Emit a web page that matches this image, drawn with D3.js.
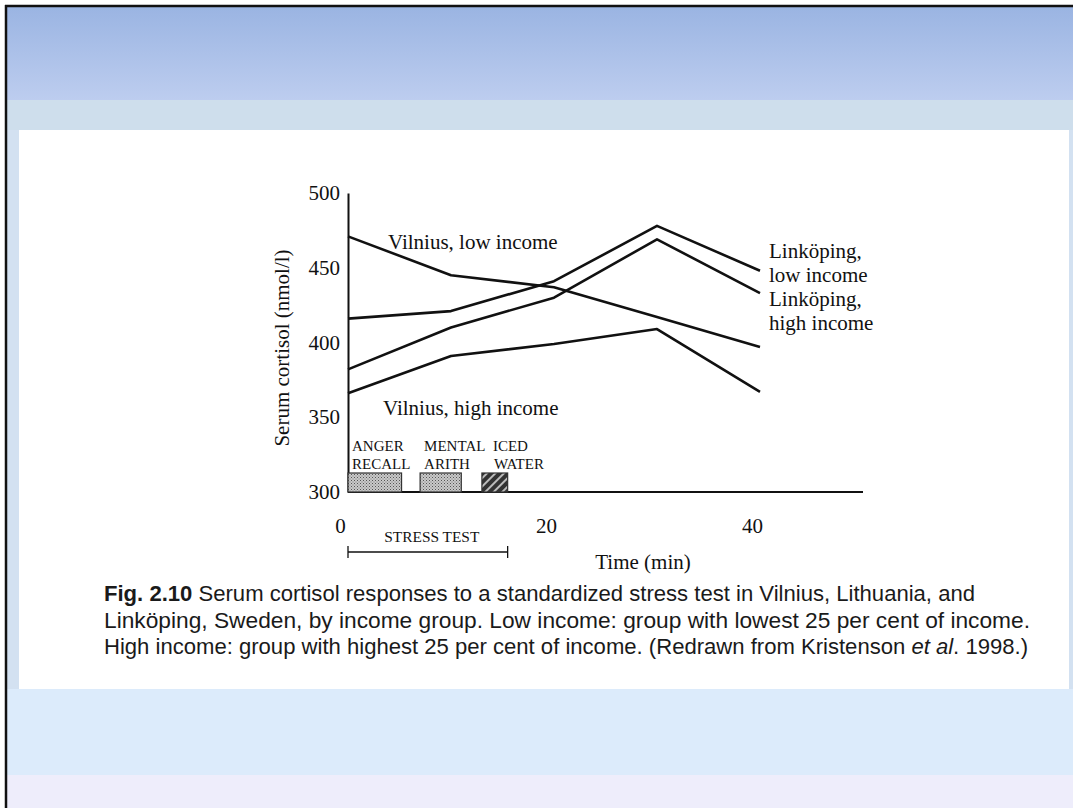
<!DOCTYPE html>
<html>
<head>
<meta charset="utf-8">
<script src="https://cdn.jsdelivr.net/npm/d3@7/dist/d3.min.js"></script>
<style>
  html, body { margin: 0; padding: 0; background: #fff; }
  svg { display: block; }
</style>
</head>
<body>
<svg id="chart" width="1073" height="808"></svg>
<script>
// ---- data ----
const times = [0, 10, 20, 30, 40];
const vilniusLow = [471, 445, 437, 417, 397];
const vilniusHigh = [366, 391, 399, 409, 367];
const linkopingLow = [416, 421, 441, 478, 448];
const linkopingHigh = [382, 410, 430, 469, 433];
const baselineTimes = [0, 50];
const baselineValues = [300, 300];
const yTicks = [300, 350, 400, 450, 500];
const xTicks = [0, 20, 40];
const phaseNames = [["ANGER", "RECALL"], ["MENTAL", "ARITH"], ["ICED", "WATER"]];
const phaseStart = [0, 7, 13];
const phaseEnd = [5.2, 11, 15.5];
const stressTestRange = [0, 15.5];
const seriesLabels = {
  vLow: ["Vilnius, low income"],
  vHigh: ["Vilnius, high income"],
  lLow: ["Linköping,", "low income"],
  lHigh: ["Linköping,", "high income"]
};
const captionLines = [
  [{t: "Fig. 2.10", w: "bold"}, {t: " Serum cortisol responses to a standardized stress test in Vilnius, Lithuania, and"}],
  [{t: "Linköping, Sweden, by income group. Low income: group with lowest 25 per cent of income."}],
  [{t: "High income: group with highest 25 per cent of income. (Redrawn from Kristenson "}, {t: "et al", s: "italic"}, {t: ". 1998.)"}]
];

const svg = d3.select("#chart");
const W = 1073, H = 808;

// ---- slide background ----
const defs = svg.append("defs");
const grad = defs.append("linearGradient").attr("id", "topGrad").attr("x1", 0).attr("y1", 0).attr("x2", 0).attr("y2", 1);
grad.append("stop").attr("offset", "0%").attr("stop-color", "#9AB4E2");
grad.append("stop").attr("offset", "100%").attr("stop-color", "#BDCDEF");

svg.append("rect").attr("x", 0).attr("y", 0).attr("width", W).attr("height", H).attr("fill", "#ffffff");
svg.append("rect").attr("x", 6).attr("y", 6).attr("width", W - 6).attr("height", H - 6).attr("fill", "#D3E1F1");
svg.append("rect").attr("x", 6).attr("y", 6).attr("width", W - 6).attr("height", 94).attr("fill", "url(#topGrad)");
svg.append("rect").attr("x", 6).attr("y", 100).attr("width", W - 6).attr("height", 30).attr("fill", "#CEDEEC");
svg.append("rect").attr("x", 6).attr("y", 689).attr("width", W - 6).attr("height", 86).attr("fill", "#DCEBFB");
svg.append("rect").attr("x", 6).attr("y", 775).attr("width", W - 6).attr("height", 33).attr("fill", "#EEEDFB");
svg.append("rect").attr("x", 19).attr("y", 130).attr("width", 1050).attr("height", 559).attr("fill", "#ffffff");
// frame edges
svg.append("line").attr("x1", 5).attr("x2", W).attr("y1", 6).attr("y2", 6).attr("stroke", "#111").attr("stroke-width", 2.5);
svg.append("line").attr("x1", 6).attr("x2", 6).attr("y1", 5).attr("y2", H).attr("stroke", "#111").attr("stroke-width", 2.5);

// ---- patterns ----
const stip = defs.append("pattern").attr("id", "stipple").attr("patternUnits", "userSpaceOnUse").attr("width", 3).attr("height", 3);
stip.append("rect").attr("width", 3).attr("height", 3).attr("fill", "#c9c9c9");
stip.append("rect").attr("x", 0).attr("y", 0).attr("width", 1).attr("height", 1).attr("fill", "#555");
stip.append("rect").attr("x", 1.5).attr("y", 1.5).attr("width", 1).attr("height", 1).attr("fill", "#777");
const hatch = defs.append("pattern").attr("id", "hatch").attr("patternUnits", "userSpaceOnUse").attr("width", 6).attr("height", 6)
  .attr("patternTransform", "rotate(45)");
hatch.append("rect").attr("width", 6).attr("height", 6).attr("fill", "#333");
hatch.append("rect").attr("x", 0).attr("y", 0).attr("width", 2).attr("height", 6).attr("fill", "#bbb");

// ---- scales ----
const x = d3.scaleLinear().domain([0, 50]).range([348, 863]);
const y = d3.scaleLinear().domain([300, 500]).range([492, 193]);

const serif = "'Liberation Serif', 'DejaVu Serif', serif";
const g = svg.append("g");

// y axis
const yAxis = g.append("g").attr("transform", `translate(${x(0)},0)`)
  .call(d3.axisLeft(y).tickValues(yTicks).tickSize(0).tickSizeOuter(0).tickPadding(8));
yAxis.select(".domain").attr("stroke", "#111").attr("stroke-width", 2);
yAxis.selectAll("text").attr("font-family", serif).attr("font-size", 21).attr("fill", "#111");

// x axis labels (no visible axis line apart from the 300 baseline)
const xAxis = g.append("g").attr("transform", `translate(0,${y(300)})`)
  .call(d3.axisBottom(x).tickValues(xTicks).tickSize(0).tickPadding(26));
xAxis.select(".domain").remove();
xAxis.selectAll("text").attr("font-family", serif).attr("font-size", 21).attr("fill", "#111").attr("dx", -8);

// baseline at 300
const line = d3.line().x(d => x(d[0])).y(d => y(d[1]));
g.append("path").datum(baselineTimes.map((t, i) => [t, baselineValues[i]]))
  .attr("d", line).attr("fill", "none").attr("stroke", "#111").attr("stroke-width", 2);

// series
const series = [vilniusLow, vilniusHigh, linkopingLow, linkopingHigh];
g.selectAll("path.series").data(series).enter().append("path").attr("class", "series")
  .attr("d", vals => line(times.map((t, i) => [t, vals[i]])))
  .attr("fill", "none").attr("stroke", "#111").attr("stroke-width", 2.6).attr("stroke-linejoin", "round");

// phase boxes
const boxH = 19;
g.selectAll("rect.phase").data(phaseStart).enter().append("rect").attr("class", "phase")
  .attr("x", (d, i) => x(phaseStart[i]))
  .attr("width", (d, i) => x(phaseEnd[i]) - x(phaseStart[i]))
  .attr("y", y(300) - boxH).attr("height", boxH)
  .attr("fill", (d, i) => i === 2 ? "url(#hatch)" : "url(#stipple)")
  .attr("stroke", "#333").attr("stroke-width", 1.2);

// phase labels
phaseNames.forEach((nm, i) => {
  const t = g.append("text").attr("font-family", serif).attr("font-size", 15).attr("fill", "#111");
  nm.forEach((s, j) => t.append("tspan").attr("x", x(phaseStart[i]) + (i === 2 ? 11 : 4) + (i === 2 && j === 1 ? 1 : 0))
    .attr("y", 451 + j * 18).text(s));
});

// stress test bracket
const by = 552;
g.append("line").attr("x1", x(stressTestRange[0])).attr("x2", x(stressTestRange[1])).attr("y1", by).attr("y2", by).attr("stroke", "#111").attr("stroke-width", 1.3);
stressTestRange.forEach(v => g.append("line").attr("x1", x(v)).attr("x2", x(v)).attr("y1", by - 6).attr("y2", by + 6).attr("stroke", "#111").attr("stroke-width", 1.3));
g.append("text").attr("x", (x(stressTestRange[0]) + x(stressTestRange[1])) / 2 + 4).attr("y", 542)
  .attr("text-anchor", "middle").attr("font-family", serif).attr("font-size", 14.5).attr("fill", "#111")
  .attr("textLength", 95).attr("lengthAdjust", "spacingAndGlyphs").text("STRESS TEST");

// axis titles
g.append("text").attr("x", 643).attr("y", 569).attr("text-anchor", "middle")
  .attr("font-family", serif).attr("font-size", 21).attr("fill", "#111").text("Time (min)");
g.append("text").attr("transform", "translate(289,348) rotate(-90)").attr("text-anchor", "middle")
  .attr("font-family", serif).attr("font-size", 21).attr("fill", "#111").text("Serum cortisol (nmol/l)");

// series labels
function label(lines, lx, ly, step) {
  const t = g.append("text").attr("font-family", serif).attr("font-size", 21).attr("fill", "#111");
  lines.forEach((s, j) => t.append("tspan").attr("x", lx).attr("y", ly + j * step).text(s));
}
label(seriesLabels.vLow, 388, 249, 24);
label(seriesLabels.vHigh, 383, 415, 24);
label(seriesLabels.lLow, 769, 258, 24);
label(seriesLabels.lHigh, 769, 306, 24);

// caption
const capFont = "'Liberation Sans', 'Open Sans', sans-serif";
const capY = [601, 628, 654];
const capW = [871, 926, 924];
captionLines.forEach((parts, i) => {
  const t = svg.append("text").attr("x", 104).attr("y", capY[i]).attr("font-family", capFont)
    .attr("font-size", 22).attr("fill", "#1a1a1a")
    .attr("textLength", capW[i]).attr("lengthAdjust", "spacingAndGlyphs");
  parts.forEach(p => t.append("tspan").attr("font-weight", p.w || "normal").attr("font-style", p.s || "normal").text(p.t));
});
</script>
</body>
</html>
